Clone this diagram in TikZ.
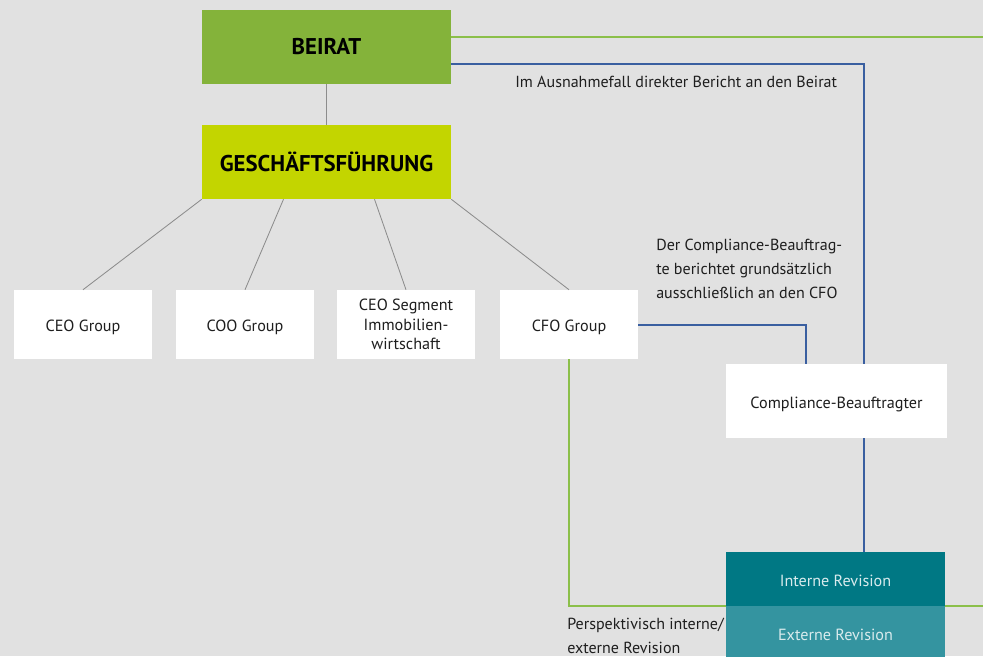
\documentclass[tikz,border=0pt]{standalone}
\usepackage{fontspec}
\setmainfont{PT Sans}
\definecolor{bgGrey}{HTML}{E1E1E1}
\definecolor{beiratGreen}{HTML}{84B33A}
\definecolor{gfLime}{HTML}{C3D500}
\definecolor{revTeal}{HTML}{007884}
\definecolor{revTealLight}{HTML}{3494A0}
\definecolor{lineBlue}{HTML}{3A5FA0}
\definecolor{lineGreen}{HTML}{8BBF4A}
\definecolor{lineGrey}{HTML}{8C8C8C}
\definecolor{txtDark}{HTML}{1E1E1E}

\begin{document}
\begin{tikzpicture}[x=0.025cm, y=-0.025cm,
  every node/.style={inner sep=0pt, text=txtDark, font=\fontsize{11.5}{13.8}\selectfont},
  headbox/.style={minimum width=6.225cm, minimum height=1.85cm, font=\fontsize{16.2}{18}\bfseries, text=black},
  unitbox/.style={fill=white, minimum width=3.45cm, minimum height=1.725cm, align=center},
  oneline/.style={text height=10.5pt, text depth=0pt},
  revbox/.style={oneline, minimum width=5.475cm, minimum height=1.35cm, text=white!85!revTeal},
  note/.style={anchor=west, align=left, font=\fontsize{11.4}{17}\selectfont},
  greyline/.style={draw=lineGrey, line width=0.6pt},
  blueline/.style={draw=lineBlue, line width=1.4pt},
  greenline/.style={draw=lineGreen, line width=1.4pt}]
\fill[bgGrey] (0,0) rectangle (983,656);
\clip (0,0) rectangle (983,656);
% top of the hierarchy
\node[headbox, fill=beiratGreen] (Beirat) at (326.5,47) {BEIRAT};
\node[headbox, fill=gfLime] (GF) at (326.5,162) {GESCHÄFTSFÜHRUNG};
% groups
\node[unitbox, oneline] (CEO) at (83,324.5) {CEO Group};
\node[unitbox, oneline] (COO) at (245,324.5) {COO Group};
\node[unitbox] (Seg) at (406,324.5) {CEO Segment\\Immobilien-\\wirtschaft};
\node[unitbox, oneline] (CFO) at (569,324.5) {CFO Group};
\node[unitbox, oneline, minimum width=5.525cm, minimum height=1.85cm] (Comp) at (836.5,401) {Compliance-Beauftragter};
\node[revbox, fill=revTeal] (IntRev) at (835.5,579) {Interne Revision};
\node[revbox, fill=revTealLight] (ExtRev) at (835.5,633) {Externe Revision};
% notes
\node[note] (noteBeirat) at (515,82) {Im Ausnahmefall direkter Bericht an den Beirat};
\node[note] (noteCFO) at (656,269) {Der Compliance-Beauftrag-\\te berichtet grundsätzlich\\ausschließlich an den CFO};
\node[note] (noteRev) at (567,636) {Perspektivisch interne/\\externe Revision};
% helper points
\coordinate (blueKnee) at (864,64);
\coordinate (cfoKnee) at (806,325);
\coordinate (rimTop) at (983,37);
% grey lines
\draw[greyline] (Beirat.south) -- (GF.north);
\draw[greyline] (GF.south west) -- (CEO.north);
\draw[greyline] ([xshift=-1.075cm]GF.south) -- (COO.north);
\draw[greyline] ([xshift=1.2cm]GF.south) -- (Seg.north);
\draw[greyline] (GF.south east) -- (CFO.north);
% blue lines
\draw[blueline] (Beirat.east |- blueKnee) -- (blueKnee) -- (blueKnee |- Comp.north);
\draw[blueline] (blueKnee |- Comp.south) -- (blueKnee |- IntRev.north);
\draw[blueline] (CFO.east |- cfoKnee) -- (cfoKnee) -- (cfoKnee |- Comp.north);
% green lines
\draw[greenline] (Beirat.east |- rimTop) -- (rimTop);
\draw[greenline] (CFO.south) |- (IntRev.south west);
\draw[greenline] (IntRev.south east) -- (IntRev.south east -| rimTop);
\end{tikzpicture}
\end{document}
